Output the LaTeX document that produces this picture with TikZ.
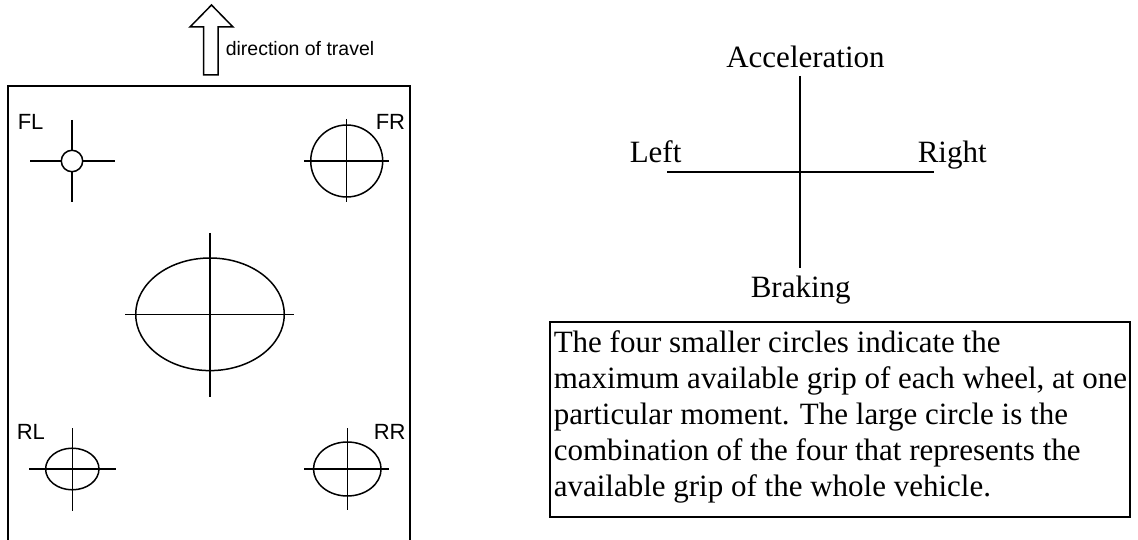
\documentclass[tikz,border=0pt]{standalone}
\usepackage{fontspec}
\setmainfont{Liberation Serif}
\newfontfamily\sansf{Liberation Sans}
\begin{document}
\begin{tikzpicture}[x=1pt,y=-1pt,line width=1.5pt,
  whl/.style={line width=1.5pt},
  wlbl/.style={font=\sansf\fontsize{22}{26}\selectfont,inner sep=0pt,anchor=base west},
  axlbl/.style={font=\fontsize{31}{36}\selectfont,inner sep=0pt},
  boxtext/.style={font=\fontsize{31}{36}\selectfont,inner sep=0pt,align=left,anchor=base west}]
\useasboundingbox (0,0) rectangle (1138,540);
% vehicle outline
\draw (8,541) -- (8,86) -- (410,86) -- (410,541);
% direction arrow
\draw[line join=miter] (203.5,75) -- (203.5,27) -- (190,27) -- (211.5,5) -- (233,27) -- (218,27) -- (218,75) -- cycle;
\node[font=\sansf\fontsize{19.5}{22}\selectfont,inner sep=0pt,anchor=base west] (dir) at (225,56) {direction of travel};
% FL
\coordinate (fl) at (72,161);
\draw[whl] (30,161) -- (115,161);
\draw[whl] (72,120) -- (72,202);
\draw[whl,fill=white] (fl) circle[radius=10.7pt];
\node[wlbl] (lfl) at (17,130) {FL};
% FR
\coordinate (fr) at (346.7,161);
\draw[whl] (fr) circle[radius=36pt];
\draw[whl] (304,161) -- (389,161);
\draw[whl] (346.7,119) -- (346.7,202);
\node[wlbl] (lfr) at (375,130) {FR};
% centre
\coordinate (cg) at (210,314.3);
\draw[whl] (cg) ellipse[x radius=74.3pt,y radius=56.3pt];
\draw[whl] (125,314.3) -- (294.3,314.3);
\draw[whl] (210,233) -- (210,397);
% RL
\coordinate (rl) at (72.3,469);
\draw[whl] (rl) ellipse[x radius=26.7pt,y radius=20.8pt];
\draw[whl] (29.3,469) -- (115.7,469);
\draw[whl] (72.3,428) -- (72.3,511);
\node[wlbl] (lrl) at (16,439) {RL};
% RR
\coordinate (rr) at (347.3,469);
\draw[whl] (rr) ellipse[x radius=33.8pt,y radius=27pt];
\draw[whl] (304,469) -- (389,469);
\draw[whl] (347.3,428) -- (347.3,510);
\node[wlbl] (lrr) at (373,439) {RR};
% axes
\node[axlbl,anchor=base] (acc) at (805.5,68) {Acceleration};
\node[axlbl,anchor=base west] (lft) at (629,163) {Left};
\node[axlbl,anchor=base west] (rgt) at (917,163) {Right};
\node[axlbl,anchor=base west] (brk) at (750,298) {Braking};
\coordinate (vt) at (800,76);
\coordinate (vb) at (800,268);
\coordinate (hl) at (667,172);
\coordinate (hr) at (934,172);
\draw (vt) -- (vb);
\draw (hl) -- (hr);
% text box
\draw[line width=1.8pt] (550,322) rectangle (1130,517);
\node[boxtext] (txt) at (553,496) {The four smaller circles indicate the\\maximum available grip of each wheel, at one\\particular moment. The large circle is the\\combination of the four that represents the\\available grip of the whole vehicle.};
\end{tikzpicture}
\end{document}
